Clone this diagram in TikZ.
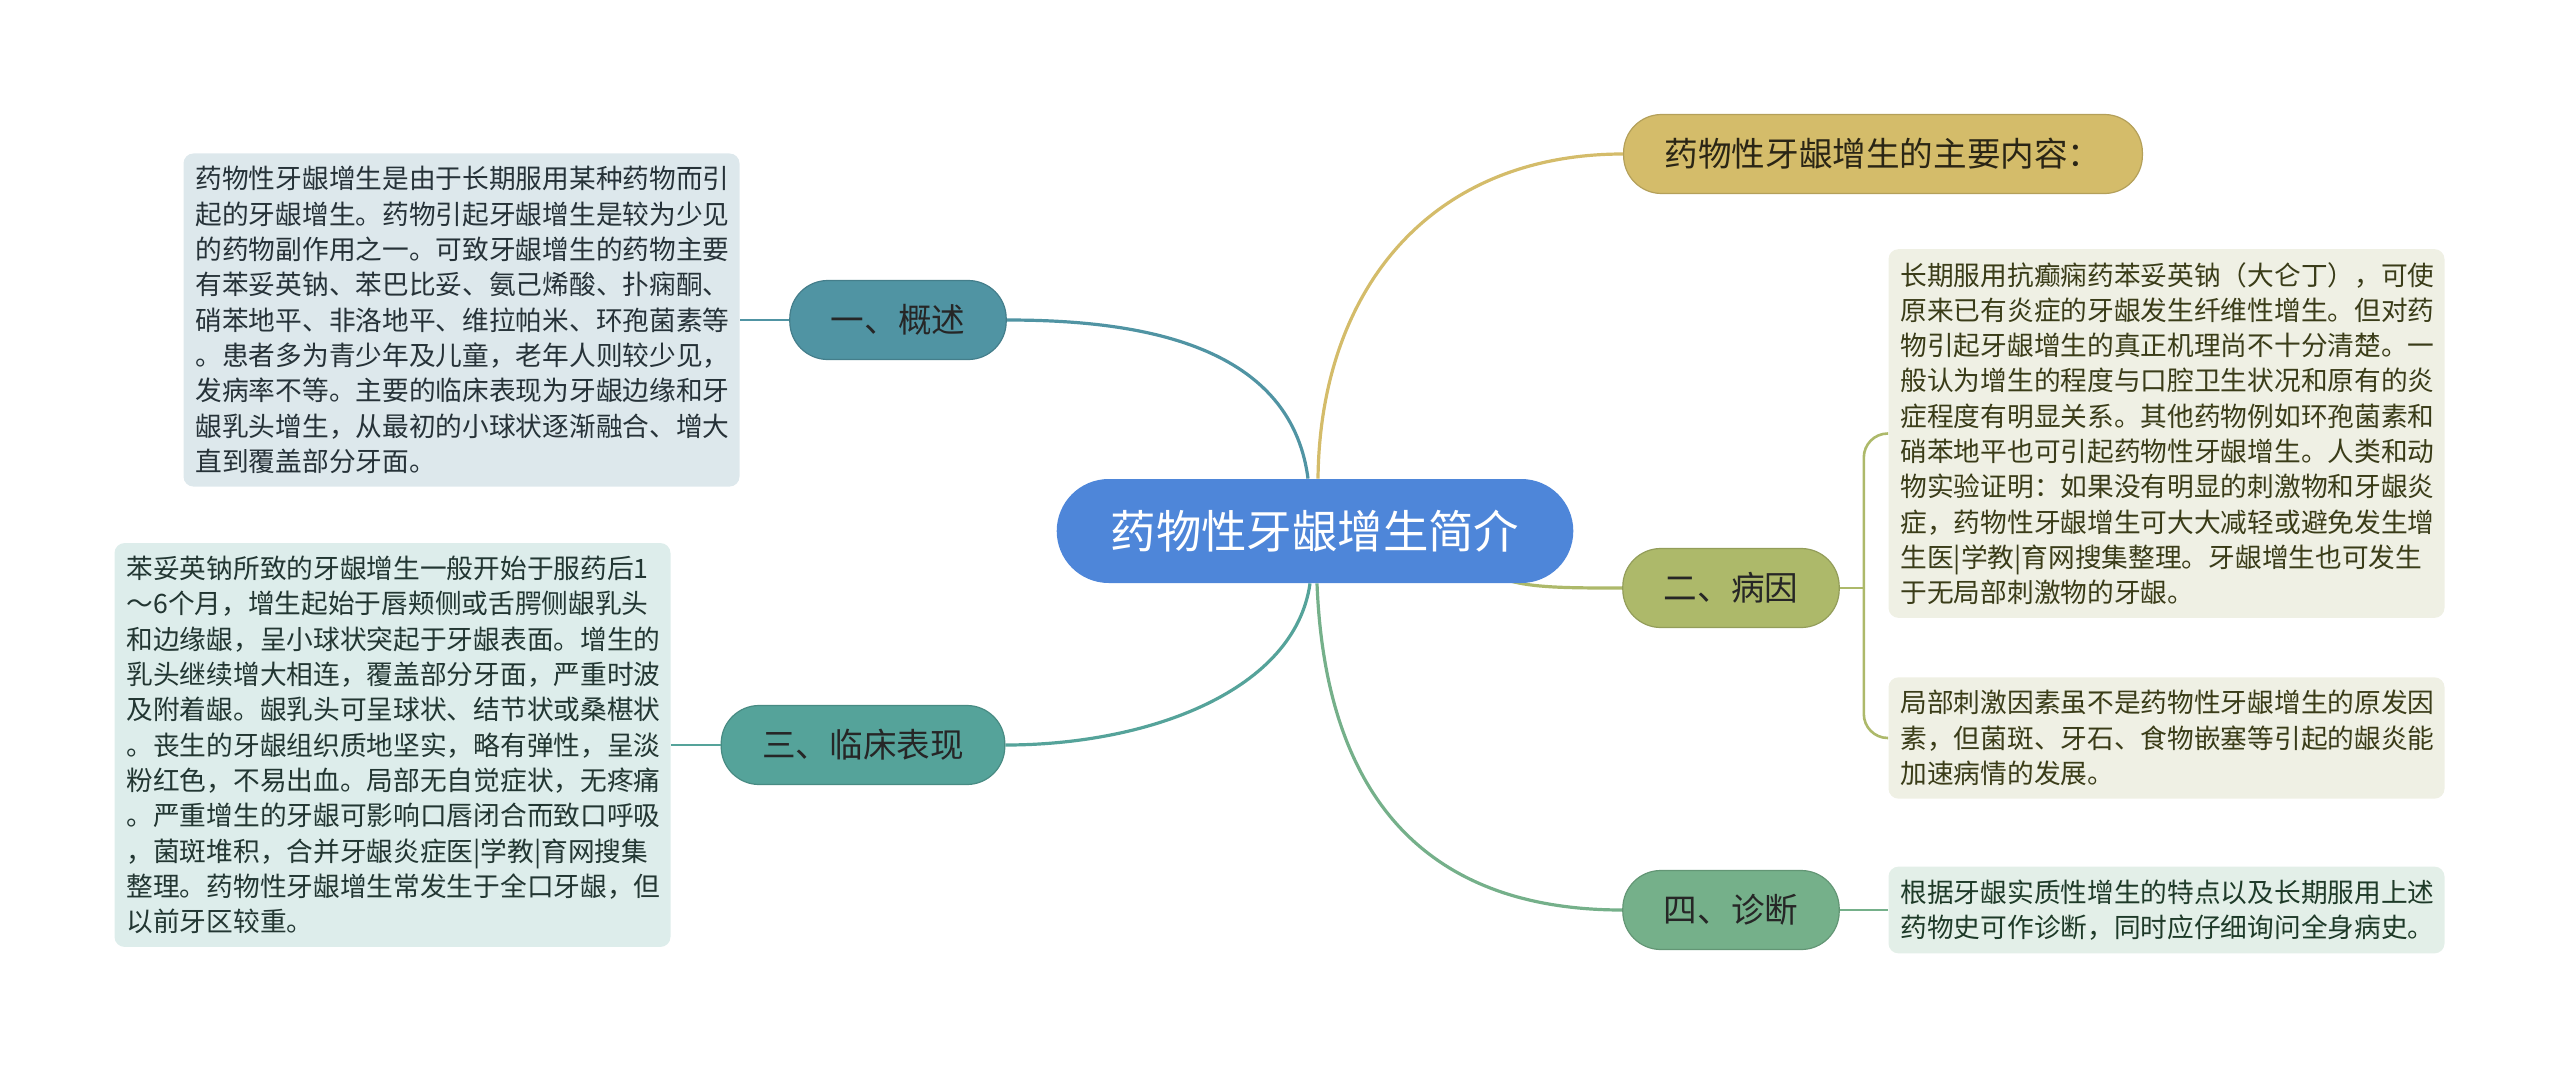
\documentclass[tikz,border=0pt]{standalone}
\usepackage{fontspec}
\setmainfont{Noto Sans CJK SC}
\usepackage{tikz}
\usetikzlibrary{calc,backgrounds}
\definecolor{hubc}{RGB}{78,134,217}
\definecolor{c0}{RGB}{212,188,106}
\definecolor{c1}{RGB}{80,148,163}
\definecolor{c2}{RGB}{173,185,106}
\definecolor{c3}{RGB}{85,163,154}
\definecolor{c4}{RGB}{117,176,138}
\definecolor{f1}{RGB}{221,232,236}
\definecolor{f2}{RGB}{239,240,228}
\definecolor{f3}{RGB}{221,237,235}
\definecolor{f4}{RGB}{227,239,232}
\definecolor{t1}{RGB}{38,50,56}
\definecolor{t2}{RGB}{58,60,24}
\definecolor{t3}{RGB}{34,54,50}
\definecolor{t4}{RGB}{30,58,40}
\tikzstyle{tx}=[rectangle,rounded corners=5pt,inner xsep=6pt,inner ysep=6.5pt,text width=266pt,align=left,font=\fontsize{13.35pt}{17.65pt}\selectfont]

\begin{document}
\begin{tikzpicture}[x=0.5pt,y=-0.5pt]
%\draw[help lines,step=100] (0,0) grid (2560,1071);
\useasboundingbox (0,0) rectangle (2560,1071);
\tikzstyle{br}=[rectangle,rounded corners=19pt,minimum height=39.5pt,inner xsep=20.5pt,line width=0.6pt,text=black!85,font=\fontsize{16.8pt}{20pt}\selectfont]
\tikzstyle{ln}=[line width=1.6pt]

\node[rectangle,rounded corners=26pt,minimum height=52pt,inner xsep=27pt,fill=hubc,text=white,font=\fontsize{22.7pt}{27pt}\selectfont] (root) at (1315,531) {药物性牙龈增生简介};

\node[br,fill=c0,draw=c0!85!black,text=black!80!c0] (zhuyao) at (1883,154) {药物性牙龈增生的主要内容：};
\node[br,fill=c1,draw=c1!85!black] (gaishu) at (898,320) {一、概述};
\node[br,fill=c2,draw=c2!85!black] (bingyin) at (1731,588) {二、病因};
\node[br,fill=c3,draw=c3!85!black] (linchuang) at (863,745) {三、临床表现};
\node[br,fill=c4,draw=c4!85!black] (zhenduan) at (1731,910) {四、诊断};

\node[tx,fill=f1,text=t1] (lb1) at (461.5,320) {药物性牙龈增生是由于长期服用某种药物而引\\起的牙龈增生。药物引起牙龈增生是较为少见\\的药物副作用之一。可致牙龈增生的药物主要\\有苯妥英钠、苯巴比妥、氨己烯酸、扑痫酮、\\硝苯地平、非洛地平、维拉帕米、环孢菌素等\\。患者多为青少年及儿童，老年人则较少见，\\发病率不等。主要的临床表现为牙龈边缘和牙\\龈乳头增生，从最初的小球状逐渐融合、增大\\直到覆盖部分牙面。};
\node[tx,fill=f3,text=t3] (lb2) at (392.5,745) {苯妥英钠所致的牙龈增生一般开始于服药后1\\～6个月，增生起始于唇颊侧或舌腭侧龈乳头\\和边缘龈，呈小球状突起于牙龈表面。增生的\\乳头继续增大相连，覆盖部分牙面，严重时波\\及附着龈。龈乳头可呈球状、结节状或桑椹状\\。丧生的牙龈组织质地坚实，略有弹性，呈淡\\粉红色，不易出血。局部无自觉症状，无疼痛\\。严重增生的牙龈可影响口唇闭合而致口呼吸\\，菌斑堆积，合并牙龈炎症医|学教|育网搜集\\整理。药物性牙龈增生常发生于全口牙龈，但\\以前牙区较重。};
\node[tx,fill=f2,text=t2] (rb1) at (2166.5,433.5) {长期服用抗癫痫药苯妥英钠（大仑丁），可使\\原来已有炎症的牙龈发生纤维性增生。但对药\\物引起牙龈增生的真正机理尚不十分清楚。一\\般认为增生的程度与口腔卫生状况和原有的炎\\症程度有明显关系。其他药物例如环孢菌素和\\硝苯地平也可引起药物性牙龈增生。人类和动\\物实验证明：如果没有明显的刺激物和牙龈炎\\症，药物性牙龈增生可大大减轻或避免发生增\\生医|学教|育网搜集整理。牙龈增生也可发生\\于无局部刺激物的牙龈。};
\node[tx,fill=f2,text=t2] (rb2) at (2166.5,738) {局部刺激因素虽不是药物性牙龈增生的原发因\\素，但菌斑、牙石、食物嵌塞等引起的龈炎能\\加速病情的发展。};
\node[tx,fill=f4,text=t4] (rb3) at (2166.5,910) {根据牙龈实质性增生的特点以及长期服用上述\\药物史可作诊断，同时应仔细询问全身病史。};

\begin{scope}[on background layer]
\draw[ln,c0] ($(root.north)+(3,0)$) .. controls (1320,290) and (1430,154) .. (zhuyao.west);
\draw[ln,c1] ($(root.north)+(-7,0)$) .. controls (1290,340) and (1130,320) .. (gaishu.east);
\draw[ln,c2] ($(root.center)+(150,0)$) .. controls +(10,57) and +(-100,0) .. (bingyin.west);
\draw[ln,c3] ($(root.south)+(-5,0)$) .. controls (1295,690) and (1150,745) .. (linchuang.east);
\draw[ln,c4] ($(root.south)+(2,0)$) .. controls (1325,790) and (1420,910) .. (zhenduan.west);
\end{scope}

\draw[line width=1.3pt,c1] (gaishu.west) -- (lb1.east);
\draw[line width=1.3pt,c3] (linchuang.west) -- (lb2.east);
\draw[line width=1.3pt,c4] (zhenduan.east) -- (rb3.west);
\draw[line width=1.3pt,c2] (bingyin.east) -- ++(24,0) coordinate (jn);
\draw[line width=1.3pt,c2,rounded corners=12pt] (jn) |- (rb1.west);
\draw[line width=1.3pt,c2,rounded corners=12pt] (jn) |- (rb2.west);
\end{tikzpicture}
\end{document}
